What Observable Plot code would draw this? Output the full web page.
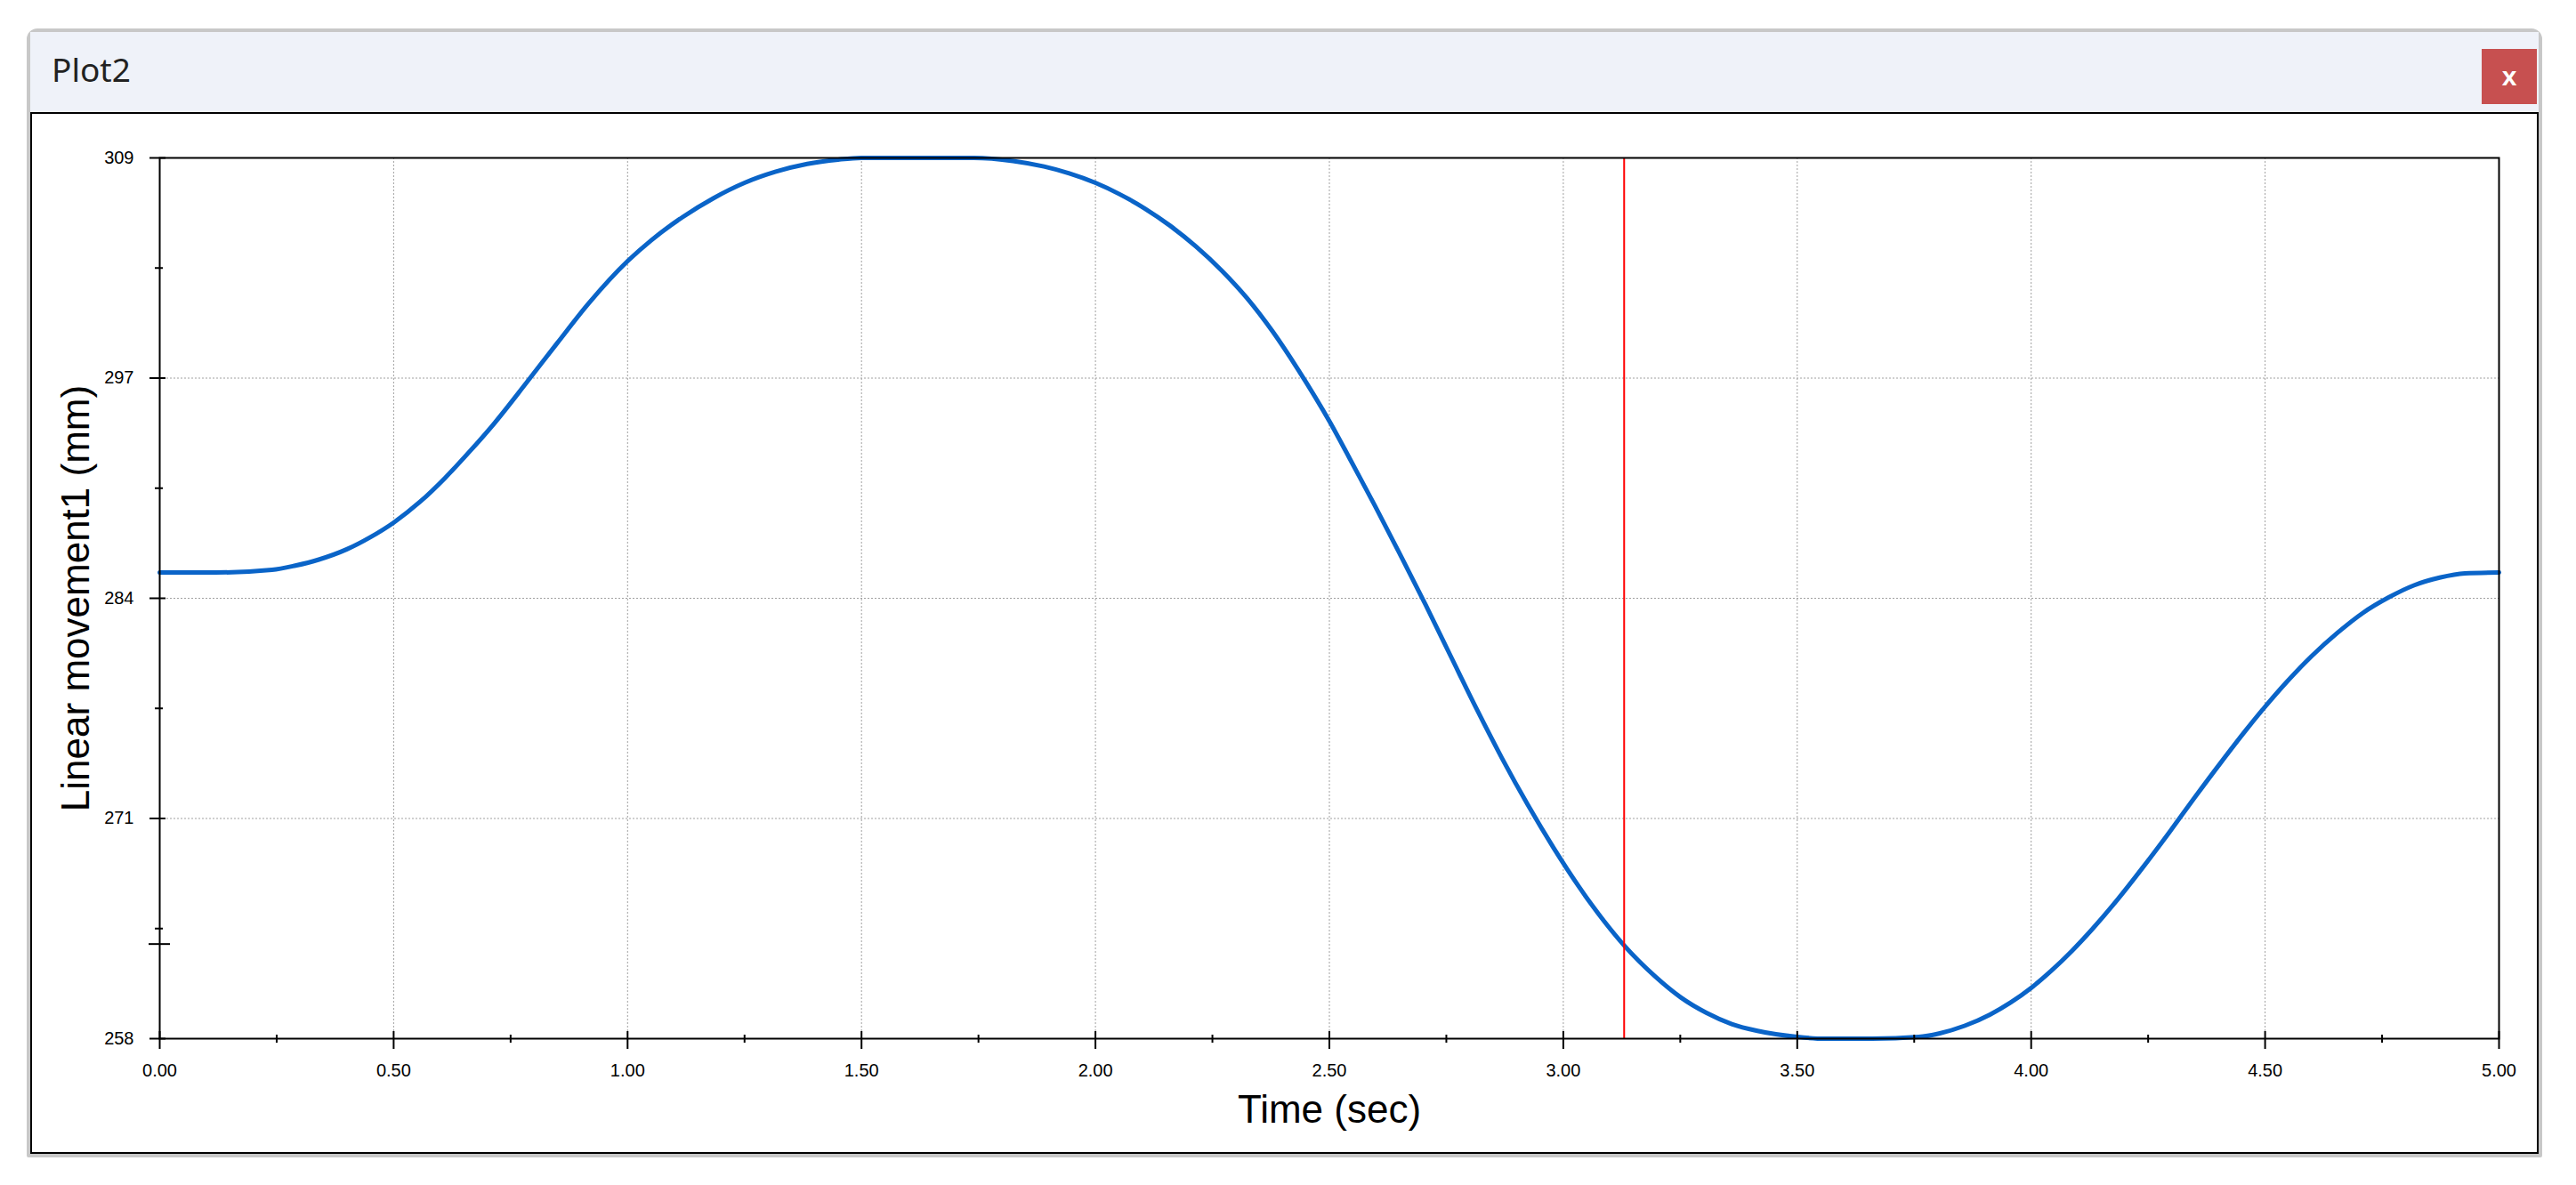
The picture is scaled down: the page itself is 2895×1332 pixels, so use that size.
<!DOCTYPE html>
<html>
<head>
<meta charset="utf-8">
<script src="https://cdn.jsdelivr.net/npm/d3@7"></script>
<script src="https://cdn.jsdelivr.net/npm/@observablehq/plot@0.6"></script>
<style>
html, body { margin: 0; padding: 0; background: #fff; }
body { width: 2895px; height: 1332px; position: relative; overflow: hidden; }
#win { position: absolute; left: 30px; top: 32px; width: 2827px; height: 1269px; border: 4px solid #c8c8c8; border-radius: 12px 12px 2px 2px; box-sizing: border-box; background: #eff2f9; }
#titlebar { position: absolute; left: 0; top: 0; width: 2819px; height: 90px; background: #eff2f9; }
#title { position: absolute; left: 24px; top: 23px; font-family: "Noto Sans", "Open Sans", sans-serif; font-size: 37px; line-height: 37px; color: #222; }
#close { position: absolute; left: 2755px; top: 19px; width: 62px; height: 62px; background: #c75050; color: #fff; font: bold 30px "Liberation Sans", Arial, sans-serif; display: flex; align-items: center; justify-content: center; }
#content { position: absolute; left: 0; top: 90px; width: 2819px; height: 1171px; border: 2px solid #000; box-sizing: border-box; background: #fff; }
#chart { position: absolute; left: 0; top: 0; }
</style>
</head>
<body>
<div id="win">
  <div id="titlebar">
    <div id="title">Plot2</div>
    <div id="close">x</div>
  </div>
  <div id="content"><div id="chart"></div></div>
</div>
<script>
// ---- data ----
const timeSec = [0, 0.12, 0.24, 0.29, 0.34, 0.40, 0.45, 0.50, 0.556, 0.61, 0.663, 0.716, 0.783, 0.85, 0.917, 1.0, 1.05, 1.117, 1.183, 1.25, 1.317, 1.384, 1.45, 1.5, 1.6, 1.74, 1.824, 1.89, 1.944, 2.0, 2.051, 2.106, 2.16, 2.215, 2.27, 2.324, 2.379, 2.433, 2.502, 2.542, 2.597, 2.651, 2.706, 2.76, 2.815, 2.869, 2.924, 2.979, 3.033, 3.088, 3.129, 3.197, 3.251, 3.306, 3.36, 3.415, 3.5, 3.56, 3.66, 3.76, 3.803, 3.858, 3.912, 3.956, 4.0, 4.043, 4.087, 4.13, 4.185, 4.24, 4.294, 4.349, 4.404, 4.458, 4.497, 4.545, 4.6, 4.655, 4.709, 4.764, 4.818, 4.873, 4.927, 5.0];
const linearMovement = [285.3, 285.3, 285.45, 285.7, 286.05, 286.65, 287.35, 288.2, 289.4, 290.8, 292.35, 294.0, 296.3, 298.65, 300.95, 303.4, 304.6, 305.95, 307.05, 307.95, 308.6, 309.05, 309.3, 309.4, 309.4, 309.4, 309.22, 308.9, 308.5, 307.95, 307.3, 306.45, 305.45, 304.25, 302.85, 301.25, 299.3, 297.1, 294.0, 292.0, 289.2, 286.35, 283.4, 280.4, 277.35, 274.5, 271.8, 269.3, 267.05, 265.0, 263.65, 261.8, 260.6, 259.7, 259.05, 258.65, 258.3, 258.2, 258.2, 258.3, 258.5, 258.95, 259.6, 260.3, 261.15, 262.15, 263.3, 264.55, 266.3, 268.2, 270.15, 272.2, 274.2, 276.1, 277.4, 278.9, 280.45, 281.8, 282.95, 283.85, 284.55, 285.0, 285.25, 285.3];

const xDomain = [0, 5];
const xTickValues = [0, 0.5, 1, 1.5, 2, 2.5, 3, 3.5, 4, 4.5, 5];
const xMinorTickValues = [0.25, 0.75, 1.25, 1.75, 2.25, 2.75, 3.25, 3.75, 4.25, 4.75];
const yDomain = [258.2, 309.4];
const yTickValues = [258.2, 271.0, 283.8, 296.6, 309.4];   // labelled 258, 271, 284, 297, 309
const yMinorTickValues = [264.6, 277.4, 290.2, 303.0];
const cursorTime = 3.13;
const cursorValue = 263.7;
const xLabel = "Time (sec)";
const yLabel = "Linear movement1 (mm)";

const data = timeSec.map((t, i) => ({t, v: linearMovement[i]}));
const gridStyle = {stroke: "#a0a0a0", strokeOpacity: 1, strokeWidth: 1, strokeDasharray: "2,2"};

const chart = Plot.plot({
  width: 2815,
  height: 1167,
  marginLeft: 143,
  marginRight: 43,
  marginTop: 49,
  marginBottom: 128,
  style: {fontFamily: '"Liberation Sans", Arial, sans-serif', fontSize: "20px", color: "#000", background: "transparent", overflow: "visible"},
  x: {domain: xDomain, axis: null, label: null},
  y: {domain: yDomain, axis: null, label: null},
  marks: [
    Plot.gridX(xTickValues.slice(1, -1), gridStyle),
    Plot.gridY(yTickValues.slice(1, -1), gridStyle),
    Plot.line(data, {x: "t", y: "v", stroke: "#0a64c8", strokeWidth: 5, curve: "monotone-x"}),
    Plot.ruleX([cursorTime], {stroke: "#ff0000", strokeWidth: 2}),
    Plot.frame({stroke: "#000", strokeWidth: 2}),
    // x axis ticks
    Plot.axisX(xTickValues, {tickSize: 20, dy: -8, fill: "none", label: null, stroke: "#000", strokeWidth: 2}),
    Plot.axisX(xMinorTickValues, {tickSize: 9, dy: -4, fill: "none", label: null, stroke: "#000", strokeWidth: 2}),
    Plot.axisX(xTickValues, {tickSize: 0, tickPadding: 28, tickFormat: d3.format(".2f"), fontSize: 20, fill: "#000", label: null}),
    // y axis ticks
    Plot.axisY(yTickValues, {tickSize: 18, dx: 7, fill: "none", label: null, stroke: "#000", strokeWidth: 2}),
    Plot.axisY(yMinorTickValues, {tickSize: 9, dx: 4, fill: "none", label: null, stroke: "#000", strokeWidth: 2}),
    Plot.axisY([cursorValue], {tickSize: 24, dx: 12, fill: "none", label: null, stroke: "#000", strokeWidth: 2}),
    Plot.axisY(yTickValues, {tickSize: 0, tickPadding: 29, tickFormat: d => String(Math.round(d)), fontSize: 20, fill: "#000", label: null}),
    // axis titles
    Plot.text([xLabel], {text: d => d, frameAnchor: "bottom", textAnchor: "middle", lineAnchor: "middle", dy: 80, fontSize: 44, fill: "#000"}),
    Plot.text([yLabel], {text: d => d, frameAnchor: "left", textAnchor: "middle", lineAnchor: "middle", rotate: -90, dx: -94, fontSize: 44, fill: "#000"})
  ]
});
document.getElementById("chart").appendChild(chart);
</script>
</body>
</html>
